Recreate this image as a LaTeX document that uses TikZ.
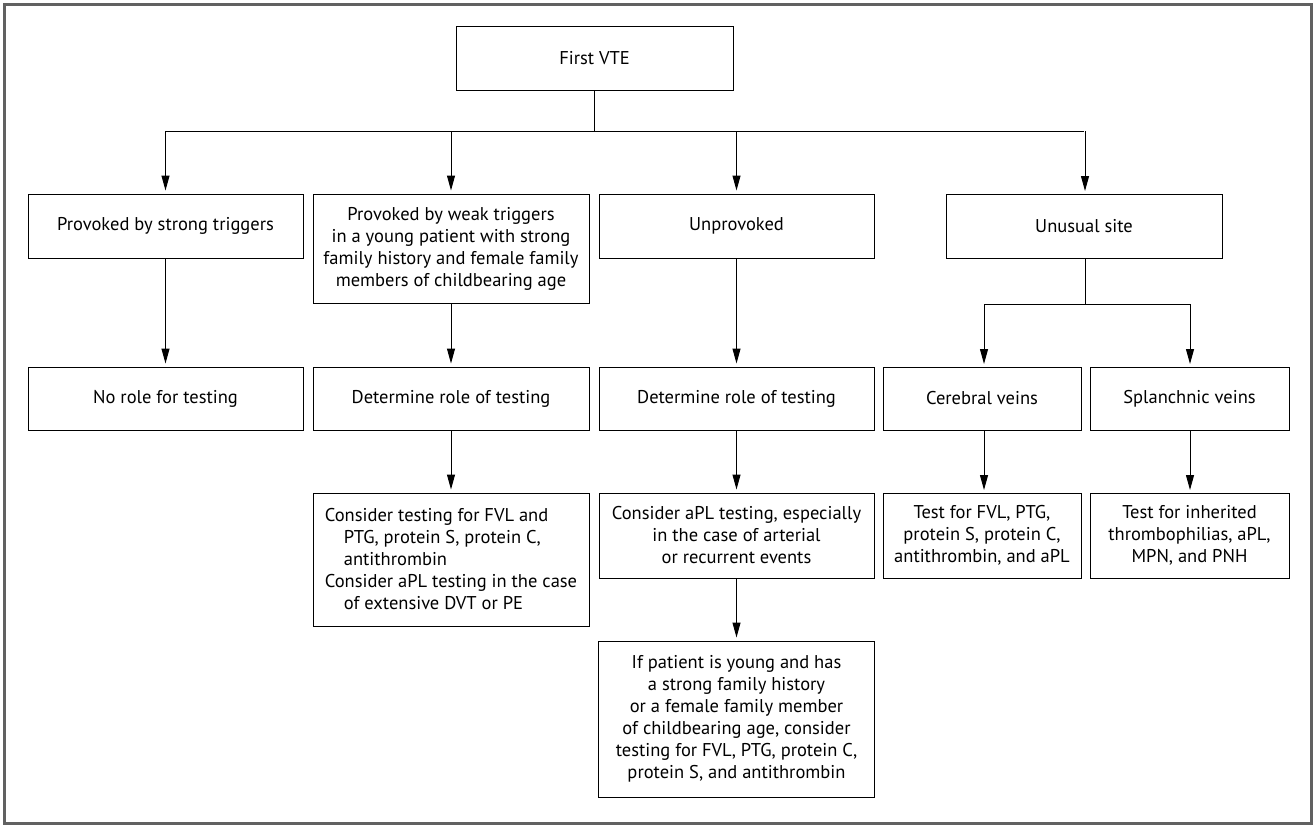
\documentclass[tikz,border=0pt]{standalone}
\usepackage{fontspec}
\setmainfont{PT Sans}
\usepackage{tikz}
\usetikzlibrary{arrows.meta}
\tikzset{
  box/.style={draw, line width=1pt, align=center, inner sep=0pt,
    font=\fontsize{18.5}{22}\selectfont},
  flow/.style={line width=1pt, -{Triangle[length=15pt,width=8pt]}, shorten >=3pt},
  link/.style={line width=1pt}
}

\begin{document}
\begin{tikzpicture}[x=1pt, y=-1pt]
    \useasboundingbox (0,0) rectangle (1314,825);
    \draw[line width=3pt, black!62] (4.5,4) rectangle (1311.5,823);
    % first row
    \node[box, minimum width=277, minimum height=64] (vte) at (594.5,58) {First VTE};
    % second row
    \node[box, minimum width=275, minimum height=64] (strong) at (165.5,226) {Provoked by strong triggers};
    \node[box, minimum width=276, minimum height=109] (weak) at (451,248.5)
        {Provoked by weak triggers\\in a young patient with strong\\family history and female family\\members of childbearing age};
    \node[box, minimum width=275, minimum height=64] (unprov) at (736.5,226) {Unprovoked};
    \node[box, minimum width=276, minimum height=64] (unusual) at (1084,226) {Unusual site};
    % third row
    \node[box, minimum width=275, minimum height=63] (norole) at (165.5,398.5) {No role for testing};
    \node[box, minimum width=276, minimum height=63] (roleB) at (451,398.5) {Determine role of testing};
    \node[box, minimum width=275, minimum height=63] (roleC) at (736.5,398.5) {Determine role of testing};
    \node[box, minimum width=198, minimum height=63] (cereb) at (982,398.5) {Cerebral veins};
    \node[box, minimum width=199, minimum height=63] (splan) at (1189.5,398.5) {Splanchnic veins};
    % fourth row
    \node[box, align=left, minimum width=276, minimum height=133] (considB) at (451,559.5)
        {Consider testing for FVL and\\\hspace*{19pt}PTG, protein S, protein C,\\\hspace*{19pt}antithrombin\\
         Consider aPL testing in the case\\\hspace*{19pt}of extensive DVT or PE};
    \node[box, minimum width=275, minimum height=85] (considC) at (736.5,535.5)
        {Consider aPL testing, especially\\in the case of arterial\\or recurrent events};
    \node[box, minimum width=198, minimum height=85] (testCer) at (982,535.5)
        {Test for FVL, PTG,\\protein S, protein C,\\antithrombin, and aPL};
    \node[box, minimum width=199, minimum height=85] (testSpl) at (1189.5,535.5)
        {Test for inherited\\thrombophilias, aPL,\\MPN, and PNH};
    % fifth row
    \node[box, minimum width=276, minimum height=156] (young) at (736.5,719)
        {If patient is young and has\\a strong family history\\or a female family member\\of childbearing age, consider\\testing for FVL, PTG, protein C,\\protein S, and antithrombin};

    \coordinate (split) at (594.5,131);
    \coordinate (usplit) at (1085,304);
    \draw[link] (vte.south) -- (split);
    \draw[link] (split -| strong.north) -- (split -| unusual.north);
    \foreach \n in {strong, weak, unprov}
        \draw[flow] (split -| \n.north) -- (\n.north);
    \draw[flow] (split -| 1085,0) -- (1085,194);
    \draw[link] (unusual.south -| usplit) -- (usplit);
    \draw[link] (usplit -| 984,0) -- (usplit -| 1190,0);
    \draw[flow] (usplit -| 984,0) -- (984,367);
    \draw[flow] (usplit -| 1190,0) -- (1190,367);
    \draw[flow] (strong) -- (norole);
    \draw[flow] (weak) -- (roleB);
    \draw[flow] (roleB) -- (considB);
    \draw[flow] (unprov) -- (roleC);
    \draw[flow] (roleC) -- (considC);
    \draw[flow] (considC) -- (young);
    \draw[flow] (cereb.south -| 984,0) -- (984,493);
    \draw[flow] (splan.south -| 1190,0) -- (1190,493);
\end{tikzpicture}
\end{document}
